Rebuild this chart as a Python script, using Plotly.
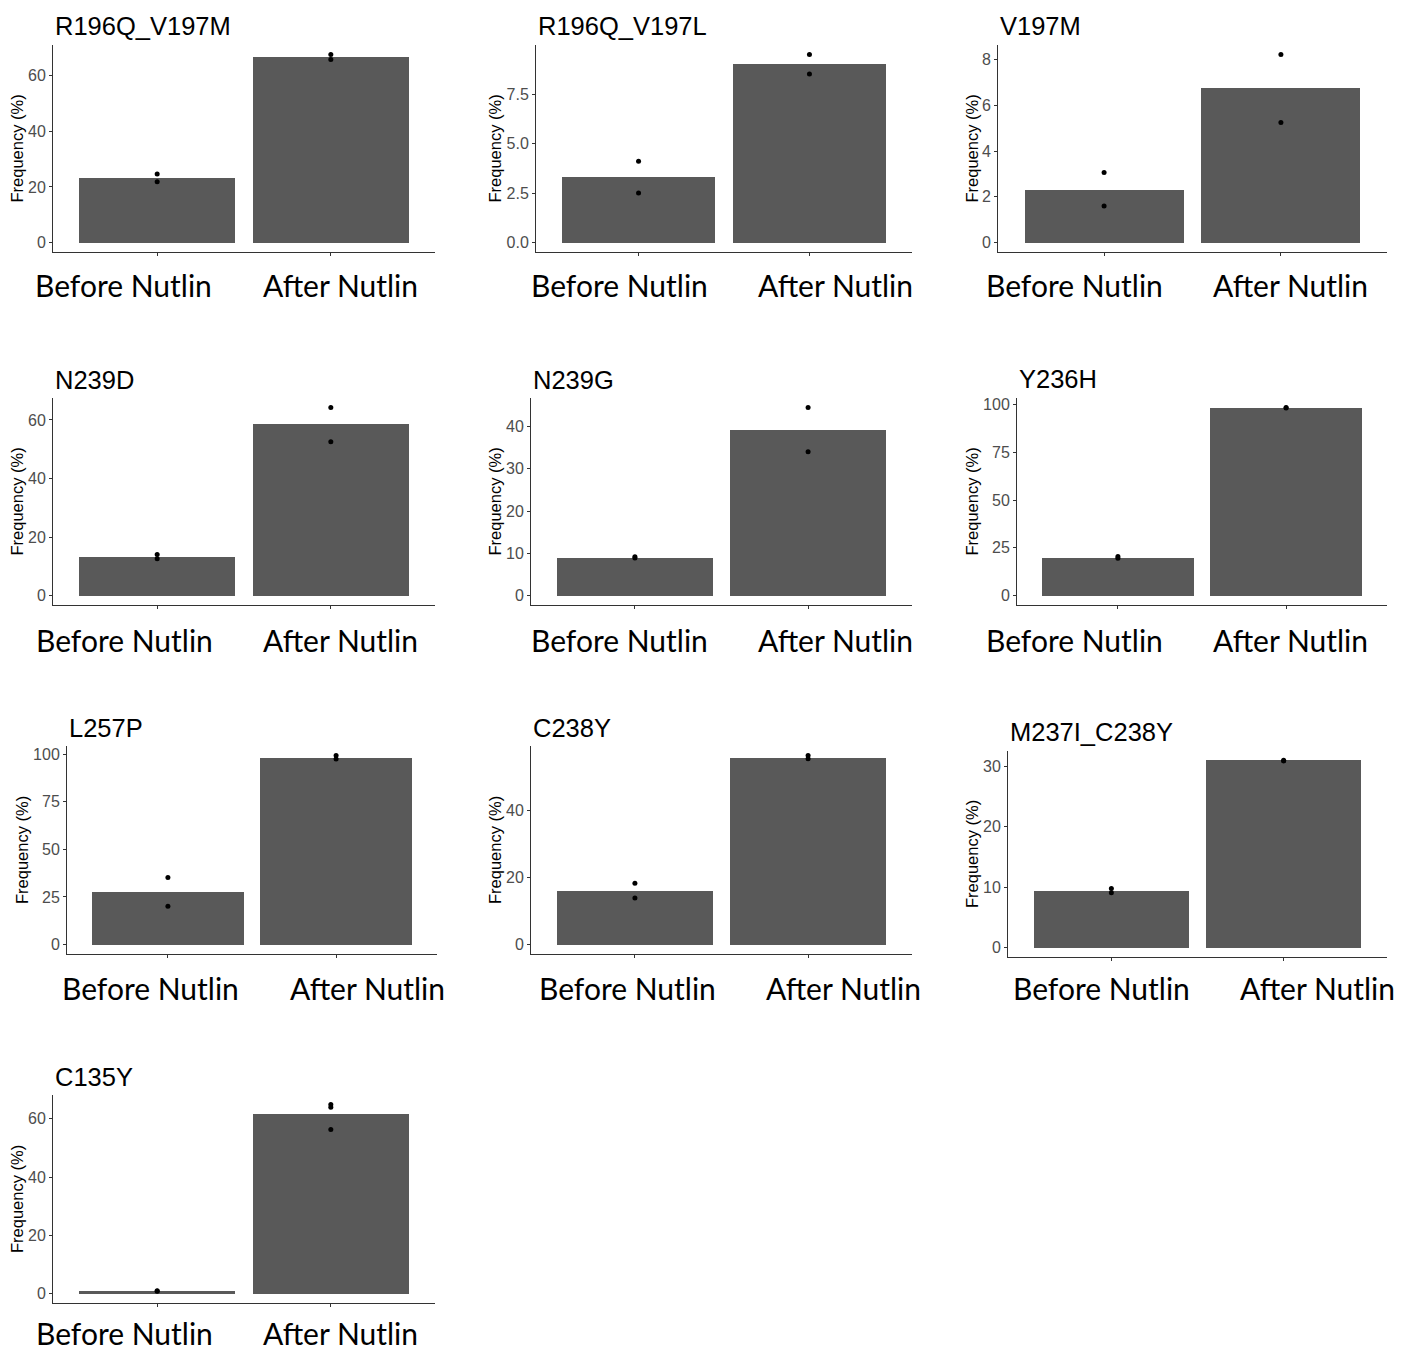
import plotly.graph_objects as go

# ---------------- data ----------------
panel_names = ["R196Q_V197M", "R196Q_V197L", "V197M",
               "N239D", "N239G", "Y236H",
               "L257P", "C238Y", "M237I_C238Y",
               "C135Y"]
conditions = ["Before Nutlin", "After Nutlin"]

before_mean = [23.3, 3.29, 2.31, 13.2, 9.0, 19.9, 27.6, 16.0, 9.4, 0.9]
after_mean = [66.7, 9.02, 6.74, 58.6, 39.2, 98.4, 98.1, 55.7, 31.0, 61.7]

before_reps = [[24.6, 21.9], [4.11, 2.5], [3.06, 1.6], [14.0, 12.6], [9.2, 8.9],
               [20.5, 19.5], [35.2, 20.1], [18.3, 13.9], [9.8, 9.1], [1.0, 0.8]]
after_reps = [[67.6, 65.8], [9.51, 8.52], [8.23, 5.25], [64.3, 52.6], [44.5, 34.0],
              [98.6, 98.3], [99.3, 97.4], [56.4, 55.4], [31.0, 30.9], [64.9, 63.9, 56.3]]

tick_step = [20, 2.5, 2, 20, 10, 25, 25, 20, 10, 20]
tick_fmt = ["d", ".1f", "d", "d", "d", "d", "d", "d", "d", "d"]

# ---------------- layout geometry (pixels) ----------------
W, H = 1402, 1353
p_left = [53, 536, 998, 53, 531, 1017, 67, 531, 1008, 53]
p_right = [435, 912, 1387, 435, 912, 1387, 437, 912, 1387, 435]
p_top = [45, 45, 45, 398, 398, 398, 746, 746, 751, 1095]
p_bottom = [252, 252, 252, 605, 605, 605, 954, 954, 957, 1303]
title_y = [26, 26, 26, 380, 380, 379, 728, 728, 732, 1077]
ytitle_x = [17, 495, 972, 17, 495, 972, 22, 495, 972, 17]
lab_before_x = [123.5, 619, 1074, 124, 619, 1074, 150, 627, 1101, 124]
lab_after_x = [340, 835, 1290, 340, 835, 1290, 367, 843, 1317, 340]
lab_y = [285, 285, 285, 640, 640, 640, 988, 988, 988, 1333]

BAR = "#595959"
AXIS = "#333333"
TXT = "Liberation Sans, Arial, Helvetica, sans-serif"

fig = go.Figure()
annotations = []
layout = {}

for i, name in enumerate(panel_names):
    k = "" if i == 0 else str(i + 1)
    xa, ya = "x" + k, "y" + k
    fig.add_trace(go.Bar(x=[0, 1], y=[before_mean[i], after_mean[i]], width=0.9,
                         marker=dict(color=BAR, line=dict(width=0)),
                         xaxis=xa, yaxis=ya, showlegend=False, hoverinfo="y"))
    px = [0] * len(before_reps[i]) + [1] * len(after_reps[i])
    py = before_reps[i] + after_reps[i]
    fig.add_trace(go.Scatter(x=px, y=py, mode="markers",
                             marker=dict(color="black", size=5),
                             xaxis=xa, yaxis=ya, showlegend=False, hoverinfo="y"))
    ymax = max(max(py), before_mean[i], after_mean[i])
    yr = [-0.05 * ymax, 1.05 * ymax]
    layout["xaxis" + k] = dict(
        domain=[p_left[i] / W, p_right[i] / W], anchor=ya,
        range=[-0.6, 1.6], tickvals=[0, 1], showticklabels=False,
        ticks="outside", ticklen=3, tickcolor=AXIS,
        showline=True, linecolor=AXIS, linewidth=1,
        showgrid=False, zeroline=False, fixedrange=True, automargin=False)
    layout["yaxis" + k] = dict(
        domain=[1 - p_bottom[i] / H, 1 - p_top[i] / H], anchor=xa,
        range=yr, dtick=tick_step[i], tick0=0, tickformat=tick_fmt[i],
        ticks="outside", ticklen=3, tickcolor=AXIS,
        tickfont=dict(family=TXT, size=16, color="#4d4d4d"),
        showline=True, linecolor=AXIS, linewidth=1,
        showgrid=False, zeroline=False, fixedrange=True, automargin=False)
    # panel title
    annotations.append(dict(text=name, xref="paper", yref="paper",
                            x=p_left[i] / W, y=1 - title_y[i] / H,
                            xanchor="left", yanchor="middle", showarrow=False,
                            font=dict(family=TXT, size=25.5, color="black")))
    # y-axis title
    annotations.append(dict(text="Frequency (%)", xref="paper", yref="paper",
                            x=ytitle_x[i] / W, y=1 - (p_top[i] + p_bottom[i]) / 2 / H,
                            xanchor="center", yanchor="middle", textangle=-90,
                            showarrow=False,
                            font=dict(family=TXT, size=16.5, color="black")))
    # category labels
    for cx, lab in zip([lab_before_x[i], lab_after_x[i]], conditions):
        annotations.append(dict(text=lab, xref="paper", yref="paper",
                                x=cx / W, y=1 - lab_y[i] / H,
                                xanchor="center", yanchor="middle", showarrow=False,
                                borderpad=0,
                                font=dict(family="Lato, Carlito, sans-serif", size=30,
                                          color="black")))

fig.update_layout(width=W, height=H, margin=dict(l=0, r=0, t=0, b=0),
                  paper_bgcolor="white", plot_bgcolor="white",
                  bargap=0, annotations=annotations, **layout)

fig.write_html("out.html")
